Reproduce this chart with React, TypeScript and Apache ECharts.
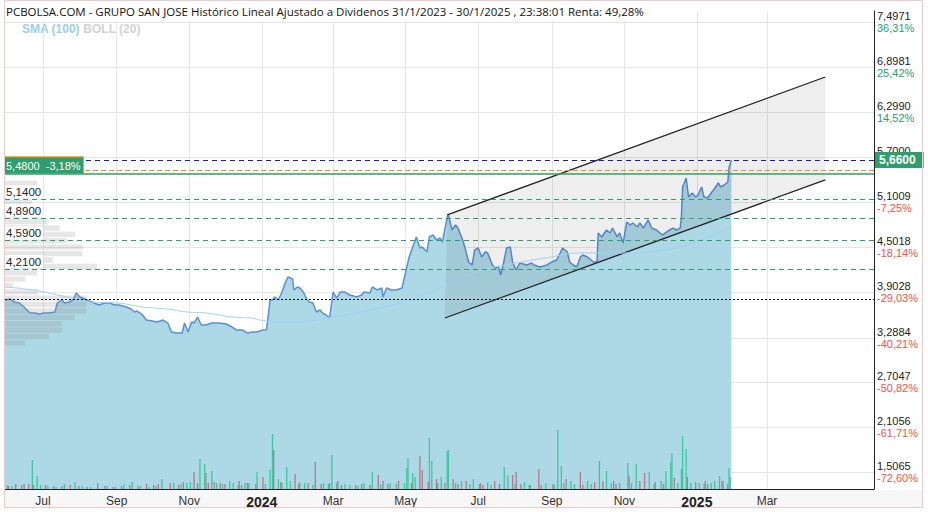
import React, { useEffect, useRef } from "react";
import * as echarts from "echarts";

// ---------- DATA ----------
const X_MIN = "2023-05-30";
const X_MAX = "2025-05-30";

const xTickDates = ["2023-07-01", "2023-09-01", "2023-11-01", "2024-01-01", "2024-03-01", "2024-05-01", "2024-07-01", "2024-09-01", "2024-11-01", "2025-01-01", "2025-03-01"];
const xTickLabels = ["Jul", "Sep", "Nov", "2024", "Mar", "May", "Jul", "Sep", "Nov", "2025", "Mar"];

const yTickValues = [1.5065, 2.1056, 2.7047, 3.2884, 3.9028, 4.5018, 5.1009, 5.7, 6.299, 6.8981, 7.4971];
const yTickLabels = ["1,5065", "2,1056", "2,7047", "3,2884", "3,9028", "4,5018", "5,1009", "5,7000", "6,2990", "6,8981", "7,4971"];
const yTickPcts = ["-72,60%", "-61,71%", "-50,82%", "-40,21%", "-29,03%", "-18,14%", "-7,25%", "", "14,52%", "25,42%", "36,31%"];

const priceData: [string, number][] = [
  ["2023-05-30", 3.797], ["2023-06-03", 3.81], ["2023-06-07", 3.77], ["2023-06-11", 3.757], ["2023-06-15", 3.703], ["2023-06-20", 3.624], ["2023-06-24", 3.624], ["2023-06-28", 3.61], ["2023-07-02", 3.624], ["2023-07-06", 3.624], ["2023-07-11", 3.637], ["2023-07-13", 3.757], ["2023-07-17", 3.797], ["2023-07-19", 3.757], ["2023-07-23", 3.77], ["2023-07-26", 3.797], ["2023-07-29", 3.89], ["2023-08-01", 3.837], ["2023-08-05", 3.81], ["2023-08-09", 3.783], ["2023-08-13", 3.757], ["2023-08-17", 3.73], ["2023-08-22", 3.757], ["2023-08-26", 3.757], ["2023-08-30", 3.73], ["2023-09-03", 3.73], ["2023-09-09", 3.703], ["2023-09-13", 3.677], ["2023-09-16", 3.637], ["2023-09-18", 3.65], ["2023-09-22", 3.61], ["2023-09-26", 3.53], ["2023-10-01", 3.517], ["2023-10-05", 3.504], ["2023-10-10", 3.53], ["2023-10-14", 3.49], ["2023-10-17", 3.37], ["2023-10-21", 3.357], ["2023-10-26", 3.357], ["2023-10-28", 3.49], ["2023-10-31", 3.37], ["2023-11-03", 3.504], ["2023-11-05", 3.49], ["2023-11-08", 3.57], ["2023-11-11", 3.464], ["2023-11-15", 3.464], ["2023-11-20", 3.49], ["2023-11-26", 3.49], ["2023-12-02", 3.477], ["2023-12-07", 3.437], ["2023-12-11", 3.397], ["2023-12-16", 3.397], ["2023-12-20", 3.357], ["2023-12-24", 3.37], ["2023-12-28", 3.37], ["2024-01-02", 3.397], ["2024-01-05", 3.4], ["2024-01-08", 3.797], ["2024-01-10", 3.797], ["2024-01-12", 3.837], ["2024-01-15", 3.797], ["2024-01-18", 3.903], ["2024-01-21", 4.036], ["2024-01-23", 4.103], ["2024-01-27", 4.076], ["2024-01-28", 3.93], ["2024-01-31", 3.97], ["2024-02-02", 3.956], ["2024-02-05", 3.903], ["2024-02-08", 3.797], ["2024-02-10", 3.77], ["2024-02-13", 3.757], ["2024-02-16", 3.637], ["2024-02-19", 3.664], ["2024-02-21", 3.624], ["2024-02-24", 3.597], ["2024-02-27", 3.557], ["2024-03-01", 3.903], ["2024-03-04", 3.823], ["2024-03-07", 3.903], ["2024-03-11", 3.903], ["2024-03-15", 3.863], ["2024-03-21", 3.837], ["2024-03-25", 3.863], ["2024-03-27", 3.903], ["2024-04-01", 3.89], ["2024-04-03", 3.97], ["2024-04-07", 3.93], ["2024-04-11", 3.956], ["2024-04-12", 3.837], ["2024-04-15", 3.956], ["2024-04-19", 3.93], ["2024-04-23", 3.93], ["2024-04-28", 3.956], ["2024-05-02", 4.236], ["2024-05-04", 4.369], ["2024-05-07", 4.502], ["2024-05-10", 4.636], ["2024-05-13", 4.489], ["2024-05-15", 4.502], ["2024-05-19", 4.436], ["2024-05-21", 4.636], ["2024-05-24", 4.662], ["2024-05-27", 4.596], ["2024-05-30", 4.622], ["2024-06-01", 4.569], ["2024-06-05", 4.902], ["2024-06-06", 4.929], ["2024-06-09", 4.729], ["2024-06-12", 4.795], ["2024-06-14", 4.755], ["2024-06-18", 4.596], ["2024-06-20", 4.489], ["2024-06-23", 4.303], ["2024-06-26", 4.263], ["2024-06-28", 4.462], ["2024-07-01", 4.489], ["2024-07-04", 4.369], ["2024-07-07", 4.436], ["2024-07-09", 4.423], ["2024-07-13", 4.263], ["2024-07-15", 4.223], ["2024-07-18", 4.236], ["2024-07-20", 4.13], ["2024-07-22", 4.263], ["2024-07-25", 4.489], ["2024-07-28", 4.502], ["2024-07-30", 4.303], ["2024-08-02", 4.196], ["2024-08-05", 4.289], ["2024-08-11", 4.263], ["2024-08-15", 4.289], ["2024-08-17", 4.263], ["2024-08-22", 4.236], ["2024-08-28", 4.263], ["2024-09-01", 4.303], ["2024-09-05", 4.329], ["2024-09-08", 4.423], ["2024-09-10", 4.489], ["2024-09-14", 4.436], ["2024-09-16", 4.303], ["2024-09-19", 4.263], ["2024-09-22", 4.236], ["2024-09-25", 4.369], ["2024-09-27", 4.396], ["2024-10-01", 4.369], ["2024-10-06", 4.303], ["2024-10-09", 4.303], ["2024-10-10", 4.689], ["2024-10-13", 4.636], ["2024-10-17", 4.729], ["2024-10-20", 4.689], ["2024-10-22", 4.755], ["2024-10-26", 4.636], ["2024-10-28", 4.689], ["2024-10-31", 4.556], ["2024-11-03", 4.835], ["2024-11-06", 4.795], ["2024-11-08", 4.822], ["2024-11-12", 4.769], ["2024-11-14", 4.822], ["2024-11-17", 4.755], ["2024-11-21", 4.862], ["2024-11-24", 4.755], ["2024-11-28", 4.729], ["2024-12-03", 4.662], ["2024-12-09", 4.729], ["2024-12-12", 4.755], ["2024-12-15", 4.729], ["2024-12-18", 4.755], ["2024-12-19", 4.902], ["2024-12-20", 5.302], ["2024-12-23", 5.421], ["2024-12-25", 5.168], ["2024-12-28", 5.222], ["2024-12-31", 5.168], ["2025-01-02", 5.195], ["2025-01-05", 5.302], ["2025-01-07", 5.168], ["2025-01-10", 5.155], ["2025-01-13", 5.222], ["2025-01-15", 5.262], ["2025-01-19", 5.355], ["2025-01-21", 5.302], ["2025-01-24", 5.328], ["2025-01-27", 5.368], ["2025-01-28", 5.554], ["2025-01-30", 5.66],
];

const smaData: [string, number][] = [
  ["2023-05-30", 3.97], ["2023-06-22", 3.93], ["2023-07-21", 3.837], ["2023-08-09", 3.77], ["2023-09-01", 3.757], ["2023-09-23", 3.703], ["2023-10-13", 3.677], ["2023-10-30", 3.637], ["2023-11-15", 3.624], ["2023-12-07", 3.57], ["2023-12-22", 3.557], ["2024-01-05", 3.517], ["2024-01-24", 3.504], ["2024-03-01", 3.57], ["2024-04-12", 3.703], ["2024-05-10", 3.823], ["2024-06-05", 4.0], ["2024-07-02", 4.18], ["2024-07-30", 4.28], ["2024-08-28", 4.36], ["2024-09-25", 4.423], ["2024-11-06", 4.423], ["2024-12-03", 4.462], ["2024-12-18", 4.502], ["2025-01-10", 4.636], ["2025-01-30", 4.769],
];

const volUp: [string, number][] = [
  ["2023-06-01", 40], ["2023-06-05", 30], ["2023-06-13", 40], ["2023-06-22", 290], ["2023-06-26", 130], ["2023-06-29", 40], ["2023-07-05", 30], ["2023-07-12", 20], ["2023-07-19", 50], ["2023-07-28", 70], ["2023-08-03", 30], ["2023-08-10", 20], ["2023-08-24", 30], ["2023-08-31", 20], ["2023-09-07", 50], ["2023-09-14", 70], ["2023-09-21", 30], ["2023-09-28", 20], ["2023-10-04", 30], ["2023-10-09", 100], ["2023-10-19", 60], ["2023-10-25", 50], ["2023-10-30", 60], ["2023-11-02", 70], ["2023-11-10", 300], ["2023-11-14", 250], ["2023-11-20", 180], ["2023-11-24", 60], ["2023-11-29", 50], ["2023-12-05", 80], ["2023-12-08", 60], ["2023-12-12", 40], ["2023-12-18", 60], ["2023-12-21", 60], ["2023-12-28", 170], ["2024-01-04", 50], ["2024-01-08", 190], ["2024-01-10", 550], ["2024-01-15", 100], ["2024-01-18", 60], ["2024-01-22", 220], ["2024-01-25", 80], ["2024-02-02", 70], ["2024-02-06", 60], ["2024-02-13", 40], ["2024-02-22", 60], ["2024-02-26", 50], ["2024-02-29", 340], ["2024-03-04", 60], ["2024-03-11", 50], ["2024-03-15", 40], ["2024-03-22", 30], ["2024-03-27", 60], ["2024-04-03", 170], ["2024-04-10", 50], ["2024-04-18", 60], ["2024-04-23", 50], ["2024-04-30", 60], ["2024-05-02", 210], ["2024-05-03", 310], ["2024-05-07", 160], ["2024-05-09", 120], ["2024-05-21", 510], ["2024-05-23", 280], ["2024-05-28", 60], ["2024-05-31", 120], ["2024-06-05", 380], ["2024-06-06", 390], ["2024-06-12", 60], ["2024-06-17", 80], ["2024-06-24", 50], ["2024-06-27", 100], ["2024-07-02", 50], ["2024-07-09", 70], ["2024-07-12", 40], ["2024-07-23", 220], ["2024-07-26", 140], ["2024-08-01", 50], ["2024-08-09", 70], ["2024-08-14", 40], ["2024-08-27", 60], ["2024-09-03", 40], ["2024-09-06", 590], ["2024-09-09", 230], ["2024-09-11", 60], ["2024-09-17", 80], ["2024-09-20", 50], ["2024-10-01", 80], ["2024-10-04", 50], ["2024-10-11", 280], ["2024-10-17", 180], ["2024-10-21", 60], ["2024-10-28", 60], ["2024-11-04", 260], ["2024-11-07", 60], ["2024-11-11", 250], ["2024-11-22", 170], ["2024-11-26", 50], ["2024-12-02", 80], ["2024-12-06", 180], ["2024-12-10", 270], ["2024-12-11", 360], ["2024-12-16", 60], ["2024-12-19", 200], ["2024-12-20", 530], ["2024-12-23", 400], ["2024-12-27", 60], ["2025-01-03", 60], ["2025-01-07", 50], ["2025-01-13", 60], ["2025-01-16", 80], ["2025-01-20", 130], ["2025-01-22", 80], ["2025-01-28", 210], ["2025-01-29", 120],
];

const volDown: [string, number][] = [
  ["2023-06-02", 30], ["2023-06-08", 50], ["2023-06-15", 50], ["2023-06-19", 50], ["2023-06-23", 40], ["2023-07-03", 40], ["2023-07-10", 30], ["2023-07-17", 30], ["2023-07-24", 40], ["2023-07-31", 30], ["2023-08-07", 20], ["2023-08-16", 60], ["2023-08-22", 30], ["2023-08-29", 20], ["2023-09-05", 30], ["2023-09-12", 40], ["2023-09-19", 30], ["2023-09-26", 50], ["2023-10-02", 40], ["2023-10-06", 50], ["2023-10-16", 60], ["2023-10-23", 40], ["2023-10-27", 70], ["2023-11-05", 170], ["2023-11-08", 60], ["2023-11-15", 160], ["2023-11-17", 60], ["2023-11-22", 70], ["2023-11-27", 60], ["2023-12-01", 50], ["2023-12-13", 80], ["2023-12-15", 40], ["2023-12-20", 60], ["2023-12-27", 50], ["2024-01-02", 120], ["2024-01-11", 390], ["2024-01-17", 70], ["2024-01-29", 150], ["2024-02-01", 50], ["2024-02-09", 60], ["2024-02-15", 270], ["2024-02-20", 50], ["2024-02-27", 60], ["2024-03-05", 80], ["2024-03-08", 40], ["2024-03-20", 40], ["2024-03-25", 50], ["2024-04-01", 40], ["2024-04-08", 140], ["2024-04-12", 80], ["2024-04-16", 50], ["2024-04-25", 80], ["2024-05-06", 60], ["2024-05-13", 330], ["2024-05-15", 190], ["2024-05-20", 70], ["2024-05-27", 100], ["2024-06-03", 60], ["2024-06-10", 100], ["2024-06-14", 50], ["2024-06-21", 80], ["2024-07-03", 60], ["2024-07-05", 40], ["2024-07-15", 80], ["2024-07-19", 50], ["2024-07-30", 140], ["2024-08-02", 170], ["2024-08-06", 50], ["2024-08-13", 40], ["2024-08-21", 200], ["2024-08-23", 40], ["2024-09-02", 50], ["2024-09-13", 100], ["2024-09-25", 170], ["2024-09-27", 40], ["2024-10-07", 70], ["2024-10-14", 80], ["2024-10-23", 80], ["2024-10-25", 50], ["2024-11-05", 130], ["2024-11-14", 80], ["2024-11-18", 160], ["2024-11-27", 70], ["2024-12-04", 50], ["2024-12-13", 110], ["2024-12-24", 120], ["2024-12-31", 70], ["2025-01-08", 80], ["2025-01-10", 50], ["2025-01-23", 80], ["2025-01-27", 50],
];

const profilePrices = [5.35, 5.265, 5.18, 5.095, 5.01, 4.925, 4.84, 4.755, 4.67, 4.585, 4.5, 4.415, 4.33, 4.245, 4.16, 4.075, 3.99, 3.905, 3.82, 3.735, 3.65, 3.565, 3.48, 3.395, 3.31, 3.225];
const profileVolumes = [37, 23, 29, 31, 35, 40, 49, 63, 81, 71, 90, 89, 55, 106, 37, 23, 9, 38, 94, 94, 94, 80, 66, 66, 50, 23];
const PROFILE_STEP = 0.085;

const channelUpperDates = ["2024-06-05", "2025-04-19"];
const channelUpperValues = [4.929, 6.766];
const channelLowerDates = ["2024-06-03", "2025-04-19"];
const channelLowerValues = [3.557, 5.395];

const supportLevels = [5.14, 4.89, 4.59, 4.21];
const supportLabels = ["5,1400", "4,8900", "4,5900", "4,2100"];
const dottedLevel = 3.81;
const lastPrice = 5.66;
const lastPriceLabel = "5,6600";
const refPrice = 5.48;
const refPriceLabel = "5,4800  -3,18%";
const orangeLevel = 5.528;
const orangeBarLevel = 5.695;
const orangeBarEnd = "2023-08-04";

const TITLE = "PCBOLSA.COM - GRUPO SAN JOSE Histórico Lineal Ajustado a Dividenos 31/1/2023 - 30/1/2025 , 23:38:01 Renta: 49,28%";

// ---------- helpers ----------
const ts = (s: string) => {
  const [y, m, d] = s.split("-").map(Number);
  return new Date(y, m - 1, d).getTime();
};
const xTickTs = xTickDates.map(ts);

export default function App() {
  const ref = useRef<HTMLDivElement>(null);
  useEffect(() => {
    if (!ref.current) return;
    const chart = echarts.init(ref.current, undefined, { renderer: "svg" });
    const green = "#2e9e6e";
    const dashGreen = "#27a074";
    const font = '"Liberation Sans", Arial, sans-serif';

    const markData: any[] = [];
    supportLevels.forEach((lv, i) => {
      markData.push({
        yAxis: lv,
        lineStyle: { color: dashGreen, type: [5, 4], width: 1 },
        label: {
          show: true, position: "insideStartTop", formatter: supportLabels[i], distance: [0, 1],
          backgroundColor: "#fff", color: "#222", fontSize: 11.5, padding: [1, 2, 0, 1], fontFamily: font,
        },
      });
    });
    markData.push({ yAxis: dottedLevel, lineStyle: { color: "#111", type: [2, 2], width: 1 }, label: { show: false } });
    markData.push({ yAxis: orangeLevel, lineStyle: { color: "#ff8c00", type: [5, 3], width: 1.2 }, label: { show: false } });
    markData.push({
      yAxis: refPrice,
      lineStyle: { color: green, type: "solid", width: 1.5 },
      label: {
        show: true, position: "insideStartTop", formatter: refPriceLabel, distance: [0, 0],
        backgroundColor: green, color: "#fff", fontSize: 11, padding: [3, 3, 2, 1], fontFamily: font,
      },
    });
    markData.push({
      yAxis: lastPrice,
      lineStyle: { color: "#1818c8", type: [5, 4], width: 1 },
      label: {
        show: true, position: "end", formatter: lastPriceLabel, distance: 1,
        backgroundColor: green, color: "#fff", fontSize: 12, fontWeight: "bold", padding: [2, 8, 2, 4], fontFamily: font,
      },
    });
    markData.push([
      { coord: [ts(X_MIN), orangeBarLevel], lineStyle: { color: "#ff8c00", type: "solid", width: 2.5 }, label: { show: false } },
      { coord: [ts(orangeBarEnd), orangeBarLevel] },
    ]);

    const option: any = {
      animation: false,
      backgroundColor: "#fff",
      textStyle: { fontFamily: font },
      grid: { left: 5, right: 54, top: 11, bottom: 23, containLabel: false },
      xAxis: [
        {
          type: "value", min: ts(X_MIN), max: ts(X_MAX),
          axisLine: { show: true, onZero: false, lineStyle: { color: "#222", width: 1 } },
          axisTick: { show: false, customValues: xTickTs },
          axisLabel: {
            customValues: xTickTs, color: "#333", fontSize: 12, margin: 6,
            formatter: (v: number) => {
              const i = xTickTs.findIndex((t) => Math.abs(t - v) < 3600000 * 13);
              if (i < 0) return "";
              const lab = xTickLabels[i];
              return /^\d{4}$/.test(lab) ? `{y|${lab}}` : lab;
            },
            rich: { y: { fontWeight: "bold", fontSize: 14, color: "#222" } },
          },
          splitLine: { show: true, lineStyle: { color: "#e6e6e6", width: 1 } },
        },
        { type: "value", gridIndex: 0, position: "top", min: 0, max: 1000, show: false },
      ],
      yAxis: [
        {
          type: "value", position: "right", min: 1.28, max: 7.645,
          axisLine: { show: true, onZero: false, lineStyle: { color: "#222", width: 1 } },
          axisTick: { show: false, customValues: yTickValues },
          axisLabel: {
            customValues: yTickValues, margin: 3, align: "left",
            formatter: (v: number) => {
              const i = yTickValues.findIndex((t) => Math.abs(t - v) < 1e-6);
              if (i < 0) return "";
              const pct = yTickPcts[i];
              if (!pct) return `{v|${yTickLabels[i]}}\n{p| }`;
              return `{v|${yTickLabels[i]}}\n{${pct.startsWith("-") ? "n" : "p"}|${pct}}`;
            },
            rich: {
              v: { color: "#222", fontSize: 11, lineHeight: 11.5 },
              p: { color: "#2a9d72", fontSize: 11, lineHeight: 11.5 },
              n: { color: "#ff4d4d", fontSize: 11, lineHeight: 11.5 },
            },
          },
          splitLine: { show: true, lineStyle: { color: "#e6e6e6", width: 1 } },
        },
        { type: "value", gridIndex: 0, min: 0, max: 4780, show: false },
      ],
      series: [
        {
          name: "price", type: "line", xAxisIndex: 0, yAxisIndex: 0, z: 2,
          data: priceData.map(([d, v]) => [ts(d), v]),
          showSymbol: false, symbol: "none",
          lineStyle: { color: "#5b8fd6", width: 1.5 },
          areaStyle: { color: "#add8e6", opacity: 1 },
        },
        {
          name: "channelFill", type: "custom", xAxisIndex: 0, yAxisIndex: 0, z: 3, silent: true,
          data: [[ts(channelUpperDates[0]), channelUpperValues[0]]],
          renderItem: (_p: any, api: any) => {
            const a = api.coord([ts(channelUpperDates[0]), channelUpperValues[0]]);
            const b = api.coord([ts(channelUpperDates[1]), channelUpperValues[1]]);
            const c = api.coord([ts(channelLowerDates[1]), channelLowerValues[1]]);
            const d = api.coord([ts(channelLowerDates[0]), channelLowerValues[0]]);
            return { type: "polygon", shape: { points: [a, b, c, d] }, style: { fill: "rgba(0,0,0,0.065)" } };
          },
        },
        {
          name: "volUp", type: "bar", xAxisIndex: 0, yAxisIndex: 1, z: 4, stack: "vol", barWidth: 1.3,
          data: volUp.map(([d, v]) => [ts(d), v]), itemStyle: { color: "#3fc79f" },
        },
        {
          name: "volDown", type: "bar", xAxisIndex: 0, yAxisIndex: 1, z: 4, stack: "vol", barWidth: 1.3,
          data: volDown.map(([d, v]) => [ts(d), v]), itemStyle: { color: "#b47a8c" },
        },
        {
          name: "upper", type: "line", xAxisIndex: 0, yAxisIndex: 0, z: 5, symbol: "none",
          data: channelUpperDates.map((d, i) => [ts(d), channelUpperValues[i]]),
          lineStyle: { color: "#222", width: 1.3 },
        },
        {
          name: "lower", type: "line", xAxisIndex: 0, yAxisIndex: 0, z: 5, symbol: "none",
          data: channelLowerDates.map((d, i) => [ts(d), channelLowerValues[i]]),
          lineStyle: { color: "#222", width: 1.3 },
        },
        {
          name: "profile", type: "custom", xAxisIndex: 1, yAxisIndex: 0, z: 5, silent: true,
          data: profilePrices.map((p, i) => [profileVolumes[i], p]),
          encode: { x: 0, y: 1 },
          renderItem: (_p: any, api: any) => {
            const v = api.value(0);
            const p = api.value(1);
            const a = api.coord([0, p + PROFILE_STEP * 0.42]);
            const b = api.coord([v, p - PROFILE_STEP * 0.42]);
            return { type: "rect", shape: { x: a[0], y: a[1], width: b[0] - a[0], height: b[1] - a[1] }, style: { fill: "rgba(140,140,140,0.22)" } };
          },
        },
        {
          name: "sma", type: "line", xAxisIndex: 0, yAxisIndex: 0, z: 6, symbol: "none", smooth: true,
          data: smaData.map(([d, v]) => [ts(d), v]),
          lineStyle: { color: "#9ed2f6", width: 1 },
          markLine: { silent: true, symbol: ["none", "none"], z: 10, data: markData },
        },
      ],
      graphic: [
        { type: "rect", z: -1, shape: { x: 5, y: 490, width: 918, height: 17 }, style: { fill: "#f7f7f7" } },
        { type: "rect", z: 20, shape: { x: 4.5, y: 0.5, width: 918, height: 507 }, style: { fill: "none", stroke: "#ebcaca", lineWidth: 1 } },
        { type: "rect", z: 18, shape: { x: 5, y: 1, width: 868, height: 10 }, style: { fill: "#fff" } },
        { type: "rect", z: 18, shape: { x: 5, y: 1, width: 645, height: 20 }, style: { fill: "#fff" } },
        {
          type: "text", z: 19, x: 6, y: 5,
          style: { text: TITLE, fill: "#111", font: '11.5px "Open Sans", sans-serif' },
        },
        {
          type: "text", z: 19, x: 22, y: 23,
          style: {
            text: "{a|SMA (100)} {b|BOLL (20)}",
            rich: {
              a: { fill: "#98cff5", font: 'bold 12px "Liberation Sans", Arial, sans-serif' },
              b: { fill: "#d2d2d2", font: 'bold 12px "Liberation Sans", Arial, sans-serif' },
            },
          },
        },
      ],
    };
    chart.setOption(option);
    return () => chart.dispose();
  }, []);
  return <div ref={ref} style={{ position: "fixed", left: 0, top: 0, width: 928, height: 512 }} />;
}
